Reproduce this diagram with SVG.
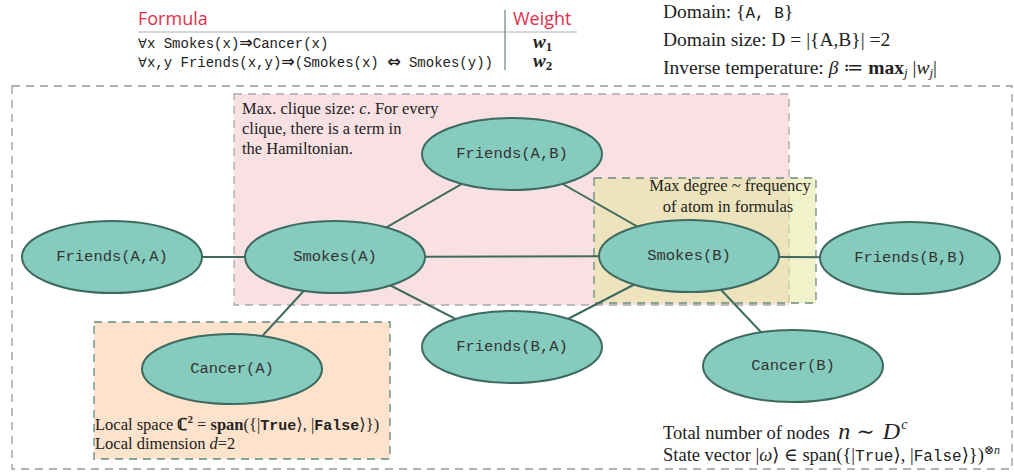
<svg xmlns="http://www.w3.org/2000/svg" width="1014" height="475" viewBox="0 0 1014 475">
<style>
.node ellipse{fill:#86ccbe;stroke:#3e6a60;stroke-width:2}
.node text{font-family:"Liberation Mono",monospace;font-size:15.5px;fill:#333;text-anchor:middle;dominant-baseline:central}
.edges line{stroke:#3e6a60;stroke-width:2}
.serif{font-family:"Liberation Serif","DejaVu Serif",serif;fill:#222}
.mono{font-family:"Liberation Mono","DejaVu Sans Mono",monospace;fill:#222}
.sym{font-family:"DejaVu Sans",sans-serif}
.hdr{font-family:"Open Sans","DejaVu Sans",sans-serif;font-size:18px;fill:#e0304a}
</style>
<rect width="1014" height="475" fill="#fff"/>
<!-- regions -->
<rect x="12" y="86" width="1000" height="383" fill="none" stroke="#8e9c9a" stroke-width="1.3" stroke-dasharray="8,6"/>
<rect x="234" y="94" width="555" height="211" fill="#f9e0e3" stroke="#a8a8a8" stroke-width="1.3" stroke-dasharray="8,6"/>
<rect x="594" y="178" width="222" height="125" fill="#e2e596" fill-opacity="0.5" stroke="#6b8a80" stroke-width="1.3" stroke-dasharray="8,6"/>
<rect x="94" y="322" width="296" height="137" fill="#fde3cc" stroke="#5f8a80" stroke-width="1.3" stroke-dasharray="8,6"/>
<!-- header table -->
<g id="table">
<text x="138" y="25" class="hdr">Formula</text>
<text x="513" y="25" class="hdr">Weight</text>
<line x1="138" y1="32" x2="577" y2="32" stroke="#c3cccc" stroke-width="1.5"/>
<line x1="505" y1="10" x2="505" y2="70" stroke="#6e8580" stroke-width="1.2"/>
<text x="138" y="48" class="mono" font-size="14"><tspan class="sym" font-size="13">∀</tspan>x Smokes(x)<tspan class="sym" font-size="16" font-weight="bold">⇒</tspan>Cancer(x)</text>
<text x="138" y="67" class="mono" font-size="14"><tspan class="sym" font-size="13">∀</tspan>x,y Friends(x,y)<tspan class="sym" font-size="16" font-weight="bold">⇒</tspan>(Smokes(x) <tspan class="sym" font-size="16" font-weight="bold">⇔</tspan> Smokes(y))</text>
<text x="533" y="48" class="serif" font-size="19" font-style="italic" font-weight="bold">w<tspan font-size="13" font-style="normal" dy="3">1</tspan></text>
<text x="533" y="67" class="serif" font-size="19" font-style="italic" font-weight="bold">w<tspan font-size="13" font-style="normal" dy="3">2</tspan></text>
</g>
<g id="domain" class="serif" font-size="19.5">
<text x="663" y="18">Domain: {<tspan class="mono" font-size="16">A, B</tspan>}</text>
<text x="663" y="46">Domain size: D = |{A,B}| =2</text>
<text x="663" y="74">Inverse temperature:  <tspan font-style="italic">β</tspan> ≔ <tspan font-weight="bold">max</tspan><tspan font-style="italic" font-size="13" dy="3">j</tspan><tspan dy="-3"> |</tspan><tspan font-style="italic">w</tspan><tspan font-style="italic" font-size="13" dy="3">j</tspan><tspan dy="-3">|</tspan></text>
</g>
<!-- connectors -->
<g id="connectors" class="edges">
<line x1="112" y1="257" x2="335" y2="257"/>
<line x1="335" y1="257" x2="512" y2="155"/>
<line x1="335" y1="257" x2="689" y2="256"/>
<line x1="335" y1="257" x2="512" y2="348"/>
<line x1="335" y1="257" x2="232" y2="369"/>
<line x1="512" y1="155" x2="689" y2="256"/>
<line x1="512" y1="348" x2="689" y2="256"/>
<line x1="689" y1="256" x2="910" y2="258"/>
<line x1="689" y1="256" x2="793" y2="366"/>
</g>
<!-- nodes -->
<g id="friends_AA" class="node"><ellipse cx="112" cy="257" rx="90" ry="36"/><text x="112" y="257">Friends(A,A)</text></g>
<g id="smokes_A" class="node"><ellipse cx="335" cy="257" rx="90" ry="36"/><text x="335" y="257">Smokes(A)</text></g>
<g id="friends_AB" class="node"><ellipse cx="512" cy="154" rx="90" ry="36"/><text x="512" y="154">Friends(A,B)</text></g>
<g id="smokes_B" class="node"><ellipse cx="689" cy="256" rx="90" ry="36"/><text x="689" y="256">Smokes(B)</text></g>
<g id="friends_BB" class="node"><ellipse cx="910" cy="258" rx="90" ry="36"/><text x="910" y="258">Friends(B,B)</text></g>
<g id="friends_BA" class="node"><ellipse cx="512" cy="347" rx="90" ry="36"/><text x="512" y="347">Friends(B,A)</text></g>
<g id="cancer_A" class="node"><ellipse cx="232" cy="369" rx="90" ry="35"/><text x="232" y="369">Cancer(A)</text></g>
<g id="cancer_B" class="node"><ellipse cx="793" cy="366" rx="90" ry="36"/><text x="793" y="366">Cancer(B)</text></g>
<!-- annotations -->
<g id="clique_note" class="serif" font-size="16.5">
<text x="242" y="114">Max. clique size: <tspan font-style="italic">c</tspan>. For every</text>
<text x="242" y="134">clique, there is a term in</text>
<text x="242" y="154">the Hamiltonian.</text>
</g>
<g id="degree_note" class="serif" font-size="16.5" text-anchor="middle">
<text x="730" y="191">Max degree ~ frequency</text>
<text x="728" y="212">of atom in formulas</text>
</g>
<g id="local_note" class="serif" font-size="16.5">
<text x="95" y="430">Local space <tspan font-weight="bold">ℂ</tspan><tspan font-size="11" font-weight="bold" dy="-7">2</tspan><tspan dy="7"> = </tspan><tspan font-weight="bold">span</tspan>({|<tspan class="mono" font-weight="bold" font-size="15">True</tspan>⟩, |<tspan class="mono" font-weight="bold" font-size="15">False</tspan>⟩})</text>
<text x="95" y="449">Local dimension <tspan font-style="italic">d</tspan>=2</text>
</g>
<g id="total_note" class="serif" font-size="18.5">
<text x="663" y="439">Total number of nodes <tspan font-style="italic" font-size="24" dx="4">n</tspan><tspan font-size="22" dx="6">∼</tspan><tspan font-style="italic" font-size="24" dx="8">D</tspan><tspan font-style="italic" font-size="14" dy="-10" dx="1">c</tspan></text>
<text x="663" y="461">State vector |<tspan font-style="italic">ω</tspan>⟩ ∈ span({|<tspan class="mono" font-size="16">True</tspan>⟩, |<tspan class="mono" font-size="16">False</tspan>⟩})<tspan font-size="12" dy="-7">⊗<tspan font-style="italic">n</tspan></tspan></text>
</g>
</svg>
